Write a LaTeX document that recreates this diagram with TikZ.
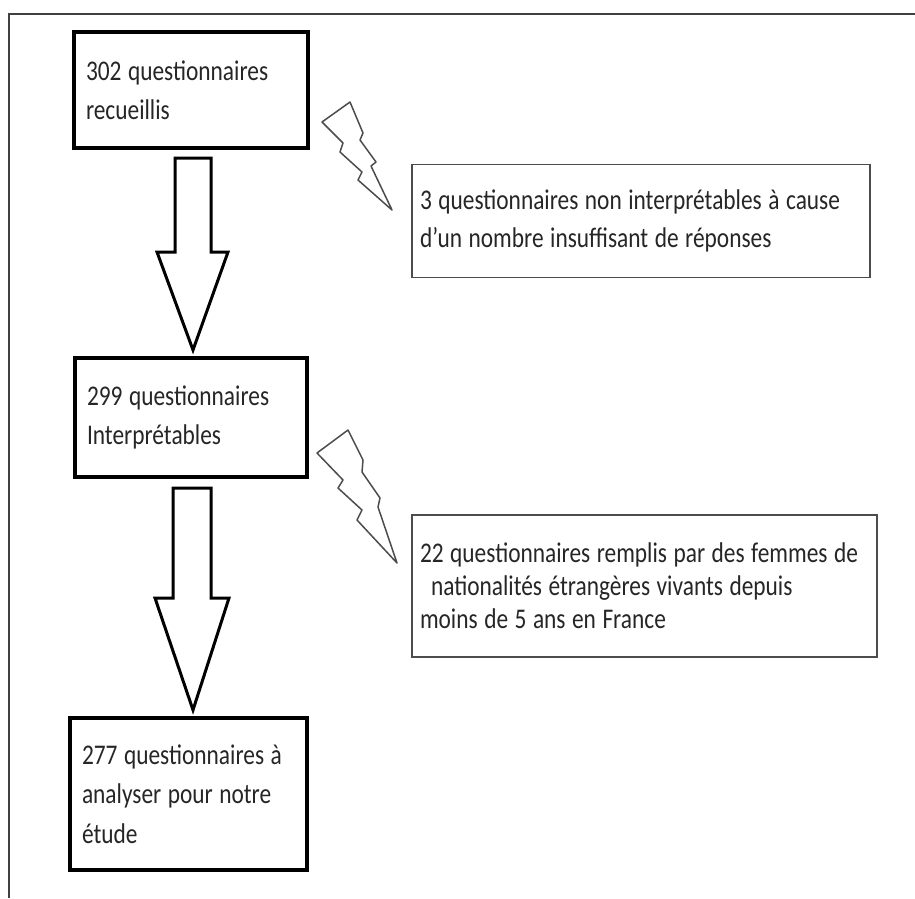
\documentclass[tikz,border=0pt]{standalone}
\usepackage{fontspec}
\setmainfont[FakeStretch=0.82]{Carlito}
\definecolor{txt}{HTML}{262626}
\begin{document}
\begin{tikzpicture}[x=1pt,y=-1pt,
  mainbox/.style={draw=black, line width=4pt, rectangle, align=left, inner xsep=12pt, inner ysep=0pt, font=\fontsize{28.5}{39.5}\selectfont, text=txt, execute at begin node={\spaceskip=6.5pt plus 2pt minus 1pt\relax}},
  sidebox/.style={draw=black!70, line width=1.5pt, rectangle, align=left, inner xsep=8pt, inner ysep=0pt, font=\fontsize{28.5}{38}\selectfont, text=txt, execute at begin node={\spaceskip=6.5pt plus 2pt minus 1pt\relax}},
  blockarrow/.style={draw=black, line width=3pt, fill=white, line join=miter},
  bolt/.style={draw=black!70, line width=1.5pt, fill=white, line join=round},
  framestyle/.style={draw=black!75, line width=1.5pt}]
\useasboundingbox (0,0) rectangle (915,898);
\fill[white] (0,0) rectangle (915,898);
\draw[framestyle] (9,898) -- (9,14) -- (915,14);

\node[mainbox, text width=210pt, minimum height=116pt] (b1) at (191,90) {302 questionnaires\\recueillis};
\node[mainbox, text width=208pt, minimum height=119pt] (b2) at (191,417.5) {299 questionnaires\\Interprétables};
\node[mainbox, text width=213pt, minimum height=152pt] (b3) at (188.5,794) {277 questionnaires à\\analyser pour notre\\étude};

\node[sidebox, text width=442pt, minimum height=113pt] (s1) at (641,221) {3 questionnaires non interprétables à cause\\d'un nombre insuffisant de réponses};
\node[sidebox, text width=449pt, minimum height=142pt, font=\fontsize{28.5}{33}\selectfont] (s2) at (644.5,586) {22 questionnaires remplis par des femmes de\\\hspace*{11pt}nationalités étrangères vivants depuis\\moins de 5 ans en France};

% block arrows
\draw[blockarrow] (175,158) -- (211,158) -- (211,252) -- (228,252) -- (193,350) -- (157,252) -- (175,252) -- cycle;
\draw[blockarrow] (173,488) -- (211,488) -- (211,598) -- (229,598) -- (193,710) -- (155,598) -- (173,598) -- cycle;

% lightning bolts
\draw[bolt] (350,102) -- (322,122) -- (343,143) -- (340,152) -- (362,172) -- (358,180) -- (392,210) -- (371,166) -- (376,162) -- (360,140) -- (363,133) -- cycle;
\draw[bolt] (348,430) -- (317,453) -- (343,480) -- (338,488) -- (362,510) -- (357,520) -- (397,563) -- (378,507) -- (380,498) -- (362,472) -- (363,460) -- cycle;
\end{tikzpicture}
\end{document}
